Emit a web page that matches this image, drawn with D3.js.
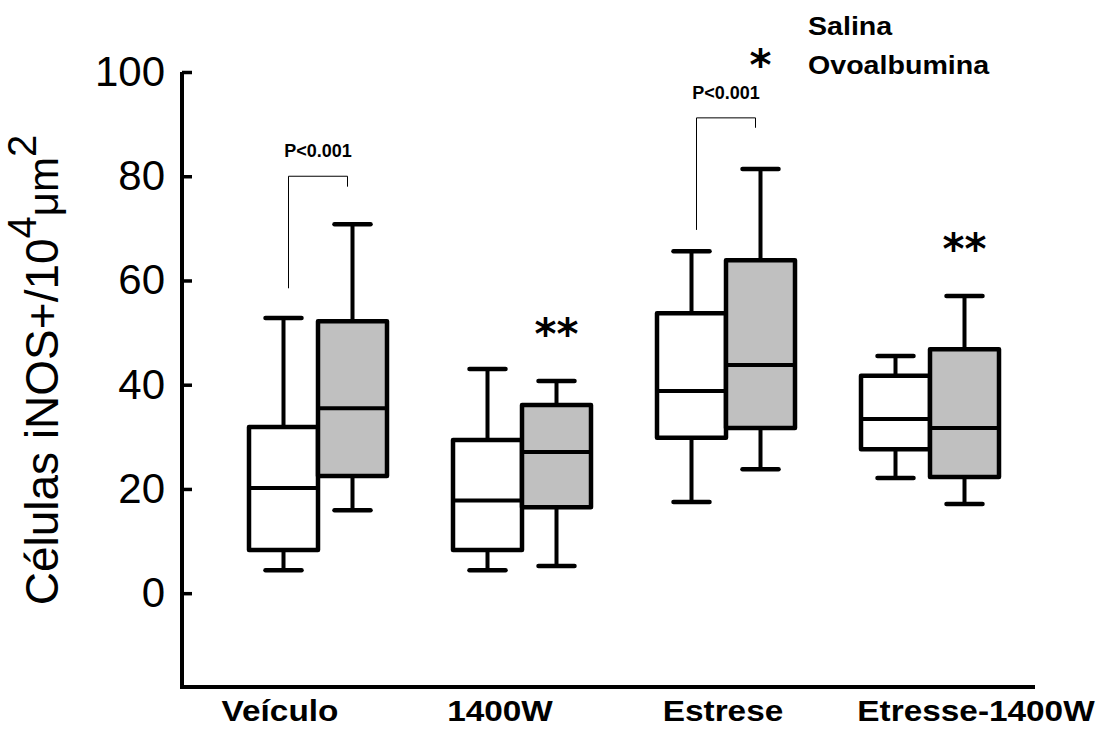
<!DOCTYPE html>
<html>
<head>
<meta charset="utf-8">
<script src="https://cdn.jsdelivr.net/npm/d3@7"></script>
<style>
body { margin: 0; background: #fff; }
svg { display: block; font-family: "Liberation Sans", Arial, Helvetica, sans-serif; }
</style>
</head>
<body>
<svg width="1109" height="731"></svg>
<script>
// groups and series
var groups = ["Veículo", "1400W", "Estrese", "Etresse-1400W"];
var series = ["Salina", "Ovoalbumina"];

// box stats per group: [whisker low, q1, median, q3, whisker high]
var salina = [
  [4.4, 8.3, 20.2, 31.9, 52.8],
  [4.4, 8.3, 17.8, 29.4, 43.0],
  [17.5, 29.8, 38.8, 53.7, 65.6],
  [22.1, 27.6, 33.4, 41.7, 45.5]
];
var ovoalbumina = [
  [15.9, 22.5, 35.5, 52.2, 70.8],
  [5.2, 16.5, 27.1, 36.1, 40.7],
  [23.8, 31.7, 43.8, 63.9, 81.4],
  [17.1, 22.3, 31.7, 46.8, 57.0]
];

var yTicks = [0, 20, 40, 60, 80, 100];

// significance marks over the ovoalbumina box
var stars = [
  {group: "1400W", text: "**", value: 51.4},
  {group: "Estrese", text: "*", value: 103},
  {group: "Etresse-1400W", text: "**", value: 67.6}
];

// P brackets: top value, left foot, right foot
var brackets = [
  {group: "Veículo", label: "P<0.001", top: 80, left: 58.5, right: 78},
  {group: "Estrese", label: "P<0.001", top: 91.2, left: 69.7, right: 89.3}
];

var svg = d3.select("svg");
var plotLeft = 182, plotRight = 1035, plotTop = 72, plotBottom = 687;

var y = d3.scaleLinear().domain([-18, 100]).range([plotBottom, plotTop]);
var x0 = d3.scalePoint().domain(groups).range([318, 930]);
var x1 = d3.scaleBand().domain(series).range([-69, 69]);
var bw = x1.bandwidth();
var fills = {Salina: "#ffffff", Ovoalbumina: "#c0c0c0"};

// label nudges (the original labels are not centered on the groups)
var labelShift = [-38, -22, -3, 46];

// y axis
var yAxis = svg.append("g")
  .attr("transform", "translate(" + plotLeft + ",0)")
  .call(d3.axisLeft(y).tickValues(yTicks).tickSizeInner(-10).tickSizeOuter(0).tickPadding(17));
yAxis.select(".domain").remove();
yAxis.selectAll(".tick line").attr("stroke", "#000").attr("stroke-width", 3.5);
yAxis.selectAll(".tick text")
  .attr("font-size", 42)
  .attr("font-family", "Liberation Sans, Arial, sans-serif")
  .attr("fill", "#000");

// axis frame (left + bottom)
svg.append("path")
  .attr("d", "M" + plotLeft + "," + y(100) + "V" + plotBottom + "H" + plotRight)
  .attr("fill", "none")
  .attr("stroke", "#000")
  .attr("stroke-width", 4);

// y title
var title = svg.append("text")
  .attr("transform", "translate(58," + 370 + ") rotate(-90)")
  .attr("text-anchor", "middle")
  .attr("font-size", 46)
  .attr("fill", "#000");
title.append("tspan").text("Células iNOS+/10");
title.append("tspan").attr("baseline-shift", "super").attr("font-size", 40).text("4");
title.append("tspan").attr("font-size", 42).text("μm");
title.append("tspan").attr("baseline-shift", "super").attr("font-size", 40).text("2");

// x labels (a bit stretched, like the original export)
svg.selectAll(".xlab")
  .data(groups)
  .enter().append("text")
  .attr("class", "xlab")
  .attr("transform", function(d, i) {
    return "translate(" + (x0(d) + labelShift[i]) + ",721) scale(1.15,1)";
  })
  .attr("text-anchor", "middle")
  .attr("font-size", 29)
  .attr("font-weight", "bold")
  .attr("fill", "#000")
  .text(function(d) { return d; });

// boxes
var boxData = [];
groups.forEach(function(g, i) {
  boxData.push({group: g, s: "Salina", v: salina[i]});
  boxData.push({group: g, s: "Ovoalbumina", v: ovoalbumina[i]});
});

var box = svg.selectAll(".box")
  .data(boxData)
  .enter().append("g")
  .attr("class", "box")
  .attr("transform", function(d) { return "translate(" + (x0(d.group) + x1(d.s)) + ",0)"; });

// whiskers
box.append("line")
  .attr("x1", bw / 2).attr("x2", bw / 2)
  .attr("y1", function(d) { return y(d.v[0]); })
  .attr("y2", function(d) { return y(d.v[4]); })
  .attr("stroke", "#000").attr("stroke-width", 4);
box.selectAll(".cap")
  .data(function(d) { return [d.v[0], d.v[4]]; })
  .enter().append("line")
  .attr("class", "cap")
  .attr("x1", bw / 2 - 18).attr("x2", bw / 2 + 18)
  .attr("y1", function(v) { return y(v); })
  .attr("y2", function(v) { return y(v); })
  .attr("stroke", "#000").attr("stroke-width", 4.5)
  .attr("stroke-linecap", "round");

box.append("rect")
  .attr("x", 0)
  .attr("width", bw)
  .attr("y", function(d) { return y(d.v[3]); })
  .attr("height", function(d) { return y(d.v[1]) - y(d.v[3]); })
  .attr("fill", function(d) { return fills[d.s]; })
  .attr("stroke", "#000").attr("stroke-width", 4.5)
  .attr("stroke-linejoin", "round");

box.append("line")
  .attr("x1", 0).attr("x2", bw)
  .attr("y1", function(d) { return y(d.v[2]); })
  .attr("y2", function(d) { return y(d.v[2]); })
  .attr("stroke", "#000").attr("stroke-width", 4);

// stars
svg.selectAll(".star")
  .data(stars)
  .enter().append("text")
  .attr("class", "star")
  .attr("x", function(d) { return x0(d.group) + x1("Ovoalbumina") + bw / 2; })
  .attr("y", function(d) { return y(d.value); })
  .attr("dy", "0.56em")
  .attr("text-anchor", "middle")
  .attr("font-family", "DejaVu Sans, sans-serif")
  .attr("font-weight", "bold")
  .attr("font-size", 42)
  .attr("fill", "#000")
  .text(function(d) { return d.text; });

// P brackets
var br = svg.selectAll(".bracket")
  .data(brackets)
  .enter().append("g")
  .attr("class", "bracket");
br.append("path")
  .attr("d", function(d) {
    var xl = x0(d.group) + x1("Salina") + bw / 2 + 5;
    var xr = x0(d.group) + x1("Ovoalbumina") + bw / 2 - 5;
    return "M" + xl + "," + y(d.left) + "V" + y(d.top) + "H" + xr + "V" + y(d.right);
  })
  .attr("fill", "none")
  .attr("stroke", "#000")
  .attr("stroke-width", 1);
br.append("text")
  .attr("x", function(d) { return x0(d.group); })
  .attr("y", function(d) { return y(d.top) - 19; })
  .attr("text-anchor", "middle")
  .attr("font-size", 18)
  .attr("font-weight", "bold")
  .attr("fill", "#000")
  .text(function(d) { return d.label; });

// legend (text only)
svg.selectAll(".leg")
  .data(series)
  .enter().append("text")
  .attr("class", "leg")
  .attr("transform", function(d, i) { return "translate(808," + (35 + i * 39) + ") scale(1.1,1)"; })
  .attr("font-size", 26)
  .attr("font-weight", "bold")
  .attr("fill", "#000")
  .text(function(d) { return d; });
</script>
</body>
</html>
